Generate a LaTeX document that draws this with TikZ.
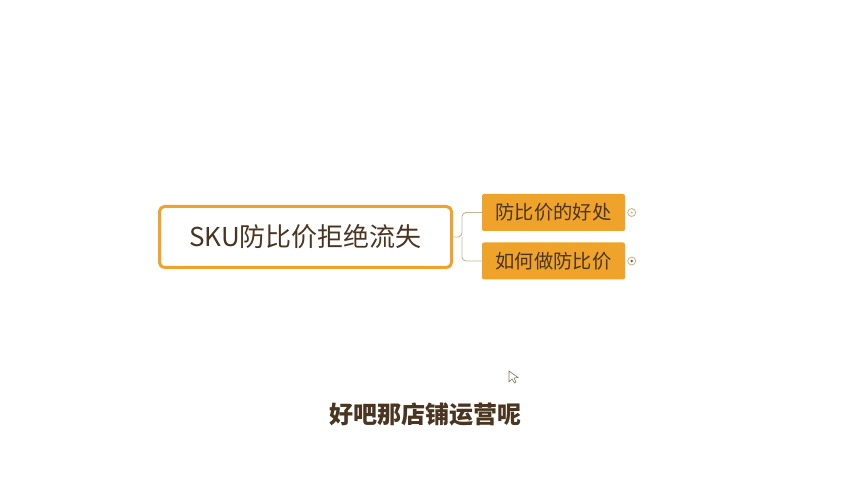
\documentclass[tikz,border=0pt]{standalone}
\usepackage{fontspec}
\usepackage{xcolor}
\usepackage{tikz}
\usetikzlibrary{calc,positioning,arrows.meta}
\newfontfamily\cjk{Noto Sans CJK SC}
\definecolor{ink}{HTML}{4A3520}
\definecolor{amber}{HTML}{F0A32A}
\definecolor{twig}{HTML}{CDB48E}
\definecolor{dot}{HTML}{C9B08A}
\newcommand{\Hub}{\cjk\fontsize{26}{30}\selectfont}
\newcommand{\Twig}{\cjk\fontsize{19.3}{22}\selectfont}
\newcommand{\Cap}{\cjk\bfseries\fontsize{24}{28}\selectfont}
\tikzset{
  rootbox/.style={draw=amber, line width=3pt, fill=white, rounded corners=5pt,
    minimum width=292pt, minimum height=61pt, text=ink, font=\Hub},
  leafbox/.style={fill=amber, rounded corners=2pt, minimum width=143pt,
    minimum height=37pt, text=ink, font=\Twig},
  branch/.style={twig, line width=0.9pt, rounded corners=4pt},
  knob/.style={draw=dot, line width=0.8pt, circle, inner sep=0pt, minimum size=8pt}
}

\begin{document}
\begin{tikzpicture}[x=1pt,y=1pt]
  \useasboundingbox (0,0) rectangle (852,480);
  % map
  \node[rootbox] (root) at (305.5,243) {SKU防比价拒绝流失};
  \node[leafbox] (gain) at (553.5,267.5) {防比价的好处};
  \node[leafbox] (how) at (553.5,219) {如何做防比价};
  \coordinate (fork) at ($(root.east)+(9,0)$);
  \draw[branch] (root.east) -- (fork) |- (gain.west);
  \draw[branch] (fork) |- (how.west);
  \node[knob] (k1) at ($(gain.east)+(6.5,0)$) {};
  \node[knob] (k2) at ($(how.east)+(6.5,0)$) {};
  \fill[dot] (k1) circle (1.2pt); \fill[ink!80] (k2) circle (1.3pt);
  % pointer
  \coordinate (tip) at (509,109);
  \draw[ink!70, fill=white, line width=0.6pt] (tip) -- ++(0,-11) -- ++(3,3) -- ++(2.5,-4) -- ++(1.5,1) -- ++(-2,4) -- ++(4,0.5) -- cycle;
  % caption
  \node[text=ink, font=\Cap] (caption) at (425,66) {好吧那店铺运营呢};
\end{tikzpicture}
\end{document}
